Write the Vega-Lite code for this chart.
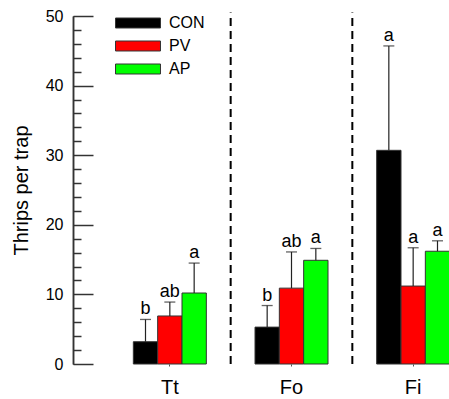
{
  "$schema": "https://vega.github.io/schema/vega-lite/v6.json",
  "autosize": "none",
  "width": 376,
  "height": 348,
  "padding": {"left": 73, "top": 16, "right": 0, "bottom": 35},
  "background": "white",
  "config": {"font": "Liberation Sans", "view": {"stroke": null}},
  "data": {"values": [
    {"site": "Tt", "trt": "CON", "mean": 3.2, "upper": 6.4, "letter": "b"},
    {"site": "Tt", "trt": "PV", "mean": 6.9, "upper": 8.9, "letter": "ab"},
    {"site": "Tt", "trt": "AP", "mean": 10.2, "upper": 14.5, "letter": "a"},
    {"site": "Fo", "trt": "CON", "mean": 5.3, "upper": 8.4, "letter": "b"},
    {"site": "Fo", "trt": "PV", "mean": 10.9, "upper": 16.1, "letter": "ab"},
    {"site": "Fo", "trt": "AP", "mean": 14.9, "upper": 16.6, "letter": "a"},
    {"site": "Fi", "trt": "CON", "mean": 30.7, "upper": 45.7, "letter": "a"},
    {"site": "Fi", "trt": "PV", "mean": 11.2, "upper": 16.7, "letter": "a"},
    {"site": "Fi", "trt": "AP", "mean": 16.2, "upper": 17.7, "letter": "a"}
  ]},
  "resolve": {"scale": {"y": "shared"}, "axis": {"y": "independent"}},
  "encoding": {
    "x": {
      "field": "site", "type": "nominal", "sort": ["Tt", "Fo", "Fi"],
      "scale": {"range": [36, 401], "paddingInner": 0, "paddingOuter": 0},
      "axis": {"title": null, "labelAngle": 0, "labelFontSize": 20, "labelColor": "black", "domain": false, "ticks": true, "tickSize": 2, "tickColor": "#555", "labelPadding": 11}
    },
    "xOffset": {"field": "trt", "type": "nominal", "sort": ["CON", "PV", "AP"], "scale": {"paddingInner": 0, "paddingOuter": 1}}
  },
  "layer": [
    {
      "mark": {"type": "bar", "stroke": "#333", "strokeWidth": 1},
      "encoding": {
        "y": {
          "field": "mean", "type": "quantitative",
          "scale": {"domain": [0, 50], "nice": false},
          "axis": {
            "orient": "left",
            "title": "Thrips per trap", "titleFontSize": 20, "titleFontWeight": "normal", "titleColor": "black", "titlePadding": 14,
            "values": [0, 10, 20, 30, 40, 50],
            "labelFontSize": 16, "labelColor": "black", "labelPadding": 30,
            "grid": false, "ticks": true, "tickSize": -20, "tickColor": "#333", "tickWidth": 1.5,
            "domainColor": "#333", "domainWidth": 1.5
          }
        },
        "color": {
          "field": "trt", "type": "nominal", "sort": ["CON", "PV", "AP"],
          "scale": {"domain": ["CON", "PV", "AP"], "range": ["#000000", "#ff0000", "#00ff00"]},
          "legend": {
            "title": null, "orient": "none", "legendX": 53, "legendY": -5, "padding": 0,
            "symbolType": "M-2,-0.444H2V0.444H-2Z", "symbolSize": 506, "symbolStrokeColor": "#333", "symbolStrokeWidth": 1, "symbolOpacity": 1,
            "labelFontSize": 16, "labelColor": "black", "labelOffset": 19, "rowPadding": 3
          }
        }
      }
    },
    {
      "mark": {"type": "rule", "color": "#222", "strokeWidth": 1.2},
      "encoding": {
        "y": {
          "field": "mean", "type": "quantitative",
          "axis": {
            "orient": "left", "title": null, "grid": false,
            "values": [2,4,6,8,12,14,16,18,22,24,26,28,32,34,36,38,42,44,46,48],
            "labels": true, "labelExpr": "''", "labelFontSize": 16, "labelPadding": 18, "labelOverlap": false,
            "domain": true, "domainColor": "#333", "domainWidth": 1.5,
            "ticks": true, "tickSize": -8, "tickColor": "#333", "tickWidth": 1.5
          }
        },
        "y2": {"field": "upper"}
      }
    },
    {
      "mark": {"type": "tick", "color": "#222", "size": 11, "thickness": 1.3, "orient": "horizontal"},
      "encoding": {"y": {"field": "upper", "type": "quantitative", "axis": null}}
    },
    {
      "mark": {"type": "text", "baseline": "alphabetic", "dy": -5, "fontSize": 18, "color": "black"},
      "encoding": {"y": {"field": "upper", "type": "quantitative", "axis": null}, "text": {"field": "letter"}}
    },
    {
      "data": {"values": [{}]},
      "mark": {"type": "rule", "color": "black", "strokeWidth": 2, "strokeDash": [8, 5]},
      "encoding": {"x": {"datum": "Fo", "type": "nominal", "bandPosition": 0}, "xOffset": null, "y": {"datum": 0, "type": "quantitative", "axis": null}, "y2": {"datum": 50.5}}
    },
    {
      "data": {"values": [{}]},
      "mark": {"type": "rule", "color": "black", "strokeWidth": 2, "strokeDash": [8, 5]},
      "encoding": {"x": {"datum": "Fi", "type": "nominal", "bandPosition": 0}, "xOffset": null, "y": {"datum": 0, "type": "quantitative", "axis": null}, "y2": {"datum": 50.5}}
    }
  ]
}
